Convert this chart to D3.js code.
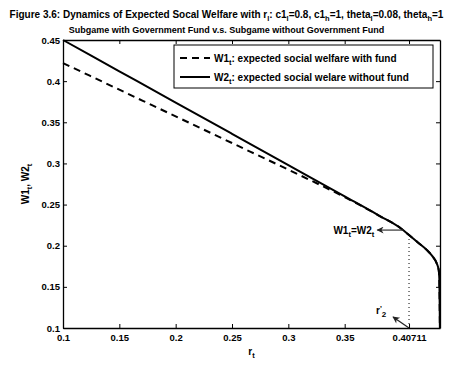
<!DOCTYPE html>
<html>
<head>
<meta charset="utf-8">
<script src="https://cdn.jsdelivr.net/npm/d3@7"></script>
<style>
  body { margin: 0; background: #fff; }
  svg { display: block; font-family: "Liberation Sans", Arial, sans-serif; font-weight: bold; }
</style>
</head>
<body>
<div id="chart"></div>
<script>
// values
var rT = [0.1, 0.15, 0.2, 0.25, 0.3, 0.35, 0.38, 0.40, 0.40711, 0.415, 0.4228, 0.428, 0.4317, 0.4335, 0.434, 0.4343, 0.4345];
var w2 = [0.45, 0.412, 0.374, 0.336, 0.298, 0.260, 0.237, 0.221, 0.213, 0.204, 0.195, 0.187, 0.1786, 0.17, 0.16, 0.13, 0.1];
var w1 = [0.422, 0.3896, 0.3572, 0.3248, 0.2924, 0.259, 0.237, 0.221, 0.213, 0.204, 0.195, 0.187, 0.1786, 0.17, 0.16, 0.13, 0.1];

var xTicks = [0.1, 0.15, 0.2, 0.25, 0.3, 0.35, 0.40711];
var xTickLabels = ["0.1", "0.15", "0.2", "0.25", "0.3", "0.35", "0.40711"];
var yTicks = [0.1, 0.15, 0.2, 0.25, 0.3, 0.35, 0.4, 0.45];
var yTickLabels = ["0.1", "0.15", "0.2", "0.25", "0.3", "0.35", "0.4", "0.45"];

var rPrime = 0.40711;   // r'_2 marker
var equalPoint = 0.402; // where W1 = W2 is pointed at

var W = 453, H = 365;
var margin = {top: 40, right: 13, bottom: 37, left: 63},
    width = W - margin.left - margin.right,
    height = H - margin.top - margin.bottom;

var svg = d3.select("#chart").append("svg")
    .attr("width", W).attr("height", H);

// small helper: text made of normal + subscript pieces
function richText(sel, parts, size, subSize) {
  subSize = subSize || size * 0.75;
  parts.forEach(function(p, i) {
    var t = sel.append("tspan").text(p[0]);
    if (p[1] === "sub") {
      t.attr("dy", size * 0.3).style("font-size", subSize + "px");
    } else if (i > 0 && parts[i - 1][1] === "sub") {
      t.attr("dy", -size * 0.3);
    }
  });
  return sel;
}

// Titles
richText(svg.append("text")
    .attr("x", W / 2).attr("y", 18)
    .attr("text-anchor", "middle")
    .style("font-size", "10px"),
  [["Figure 3.6: Dynamics of Expected Socal Welfare with r"], ["l", "sub"], [": c1"], ["l", "sub"],
   ["=0.8, c1"], ["h", "sub"], ["=1, theta"], ["l", "sub"], ["=0.08, theta"], ["h", "sub"], ["=1"]], 10, 7.5);

svg.append("text")
    .attr("x", W / 2).attr("y", 33)
    .attr("text-anchor", "middle")
    .style("font-size", "9px")
    .text("Subgame with Government Fund v.s. Subgame without Government Fund");

var g = svg.append("g")
    .attr("transform", "translate(" + margin.left + "," + margin.top + ")");

// Scales
var xScale = d3.scaleLinear().domain([0.1, 0.4346]).range([0, width]);
var yScale = d3.scaleLinear().domain([0.1, 0.45]).range([height, 0]);

// Axes, ticks inward like matlab
var fmtX = function(d, i) { return xTickLabels[i]; };
var fmtY = function(d, i) { return yTickLabels[i]; };

g.append("g").attr("class", "axis")
    .attr("transform", "translate(0," + height + ")")
    .call(d3.axisBottom(xScale).tickValues(xTicks).tickFormat(fmtX).tickSizeInner(-4).tickSizeOuter(0).tickPadding(6));
g.append("g").attr("class", "axis")
    .call(d3.axisTop(xScale).tickValues(xTicks).tickFormat("").tickSizeInner(-4).tickSizeOuter(0));
g.append("g").attr("class", "axis")
    .call(d3.axisLeft(yScale).tickValues(yTicks).tickFormat(fmtY).tickSizeInner(-4).tickSizeOuter(0).tickPadding(3));
g.append("g").attr("class", "axis")
    .attr("transform", "translate(" + width + ",0)")
    .call(d3.axisRight(yScale).tickValues(yTicks).tickFormat("").tickSizeInner(-4).tickSizeOuter(0));

g.selectAll(".axis path").attr("stroke", "#000").attr("stroke-width", 1.3);
g.selectAll(".axis line").attr("stroke", "#000");
g.selectAll(".axis text")
    .attr("fill", "#000")
    .style("font-size", "9.5px")
    .style("font-family", "'Liberation Sans', Arial, sans-serif")
    .style("font-weight", "bold");

// Lines
var line1 = d3.line()
    .curve(d3.curveMonotoneX)
    .x(function(d, i) { return xScale(rT[i]); })
    .y(function(d) { return yScale(d); });

g.append("path")
    .attr("d", line1(w2))
    .attr("fill", "none").attr("stroke", "#000")
    .attr("stroke-width", 2);

g.append("path")
    .attr("d", line1(w1))
    .attr("fill", "none").attr("stroke", "#000")
    .attr("stroke-width", 2)
    .attr("stroke-dasharray", "7,5");

// dotted line at r'_2
var idx = rT.indexOf(rPrime);
g.append("line")
    .attr("x1", xScale(rPrime)).attr("x2", xScale(rPrime))
    .attr("y1", yScale(w2[idx])).attr("y2", height)
    .attr("stroke", "#000").attr("stroke-width", 1)
    .attr("stroke-dasharray", "1,3");

// arrow marker
svg.append("defs").append("marker")
    .attr("id", "arr").attr("viewBox", "0 0 10 10")
    .attr("refX", 9).attr("refY", 5)
    .attr("markerWidth", 9).attr("markerHeight", 7)
    .attr("markerUnits", "userSpaceOnUse")
    .attr("orient", "auto")
  .append("path").attr("d", "M0,0 L10,5 L0,10 L3,5 z").attr("fill", "#222");

// W1 = W2 annotation
var eqY = yScale(0.219);
g.append("line")
    .attr("x1", xScale(equalPoint)).attr("y1", eqY)
    .attr("x2", xScale(equalPoint) - 26).attr("y2", eqY)
    .attr("stroke", "#333").attr("stroke-width", 1.2)
    .attr("marker-end", "url(#arr)");

richText(g.append("text")
    .attr("x", xScale(equalPoint) - 29).attr("y", eqY + 3.5)
    .attr("text-anchor", "end")
    .style("font-size", "10px"),
  [["W1"], ["t", "sub"], ["=W2"], ["t", "sub"]], 10);

// r'_2 annotation
g.append("line")
    .attr("x1", xScale(rPrime)).attr("y1", height)
    .attr("x2", xScale(rPrime) - 16).attr("y2", height - 11)
    .attr("stroke", "#222").attr("stroke-width", 1.2)
    .attr("marker-end", "url(#arr)");

var rp = g.append("text")
    .attr("x", xScale(rPrime) - 33).attr("y", height - 14)
    .style("font-size", "10px");
rp.append("tspan").text("r");
rp.append("tspan").text("'").attr("dy", -3).style("font-size", "8px");
rp.append("tspan").text("2").attr("dy", 6).style("font-size", "8px");

// Legend
var legW = 259;
var leg = g.append("g").attr("transform", "translate(" + (width - 7 - legW) + ",5)");
leg.append("rect")
    .attr("width", legW).attr("height", 43)
    .attr("fill", "#fff").attr("stroke", "#000").attr("stroke-width", 1);

var legItems = [
  {dash: "7,5", parts: [["W1"], ["t", "sub"], [": expected social welfare with fund"]]},
  {dash: null, parts: [["W2"], ["t", "sub"], [": expected social welare without fund"]]}
];
legItems.forEach(function(it, i) {
  var yy = 13 + i * 19;
  var ln = leg.append("line")
      .attr("x1", 6).attr("x2", 36).attr("y1", yy).attr("y2", yy)
      .attr("stroke", "#000").attr("stroke-width", 2);
  if (it.dash) ln.attr("stroke-dasharray", it.dash);
  richText(leg.append("text")
      .attr("x", 40).attr("y", yy + 3.5)
      .style("font-size", "10px"), it.parts, 10);
});

// y label
richText(svg.append("text")
    .attr("transform", "translate(29," + (margin.top + height / 2) + ") rotate(-90)")
    .attr("text-anchor", "middle")
    .style("font-size", "10px"),
  [["W1"], ["t", "sub"], [", W2"], ["t", "sub"]], 10);

// x label
richText(svg.append("text")
    .attr("x", margin.left + width / 2).attr("y", H - 10)
    .attr("text-anchor", "middle")
    .style("font-size", "10px"),
  [["r"], ["t", "sub"]], 10);
</script>
</body>
</html>
